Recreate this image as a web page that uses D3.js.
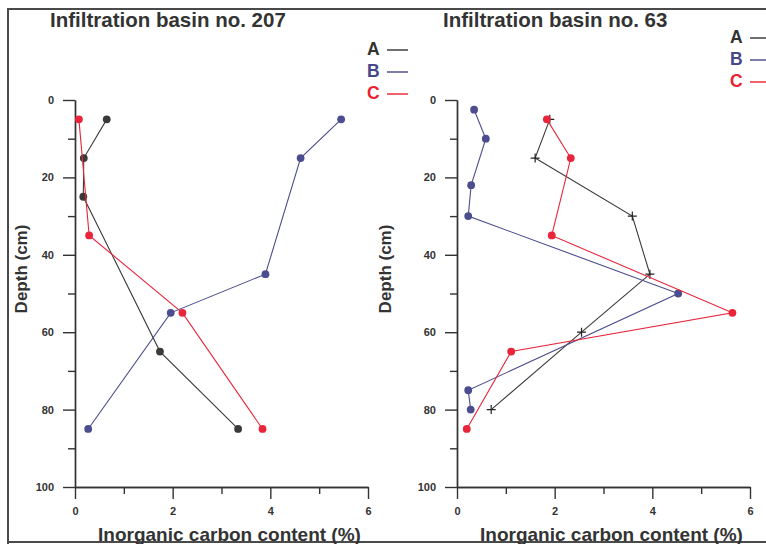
<!DOCTYPE html>
<html>
<head>
<meta charset="utf-8">
<script src="https://cdn.jsdelivr.net/npm/d3@7"></script>
<style>
  body { margin: 0; background: #fff; }
  svg { display: block; }
  text { font-family: "Liberation Sans", Arial, Helvetica, sans-serif; font-weight: bold; }
</style>
</head>
<body>
<svg id="chart" width="766" height="544"></svg>
<script>
// ---- data -------------------------------------------------------------
const panelTitles = ["Infiltration basin no. 207", "Infiltration basin no. 63"];
const seriesNames = ["A", "B", "C"];
const xTickValues = [0, 2, 4, 6];
const xMinorTickValues = [1, 3, 5];
const yTickValues = [0, 20, 40, 60, 80, 100];
const yMinorTickValues = [10, 30, 50, 70, 90];
const xTitle = "Inorganic carbon content (%)";
const yTitle = "Depth (cm)";

// Basin 207: depth (cm) and inorganic carbon (%)
const basin207DepthA = [5, 15, 25, 65, 85];
const basin207CarbonA = [0.65, 0.18, 0.17, 1.74, 3.34];
const basin207DepthB = [5, 15, 45, 55, 85];
const basin207CarbonB = [5.45, 4.62, 3.90, 1.96, 0.27];
const basin207DepthC = [5, 35, 55, 85];
const basin207CarbonC = [0.08, 0.29, 2.20, 3.84];

// Basin 63
const basin63DepthA = [5, 15, 30, 45, 60, 80];
const basin63CarbonA = [1.90, 1.60, 3.59, 3.95, 2.55, 0.70];
const basin63DepthB = [2.5, 10, 22, 30, 50, 75, 80];
const basin63CarbonB = [0.35, 0.59, 0.29, 0.23, 4.53, 0.23, 0.28];
const basin63DepthC = [5, 15, 35, 55, 65, 85];
const basin63CarbonC = [1.84, 2.33, 1.94, 5.64, 1.11, 0.20];

// ---- styling ----------------------------------------------------------
const lineColors = { A: "#3a3a3a", B: "#4b4d8e", C: "#e8253b" };
const legendColors = { A: "#333333", B: "#45478a", C: "#e8202f" };
const inkColor = "#333";

const zip = (depths, values) => depths.map((d, i) => ({ depth: d, value: values[i] }));

const panels = [
  {
    title: panelTitles[0],
    xRange: [75, 368],
    titleX: 50,
    legendX: 367, legendY: [49, 71, 93],
    yTitleX: 27,
    series: [
      { name: "A", marker: "circle", pts: zip(basin207DepthA, basin207CarbonA) },
      { name: "C", marker: "circle", pts: zip(basin207DepthC, basin207CarbonC) },
      { name: "B", marker: "circle", pts: zip(basin207DepthB, basin207CarbonB) }
    ]
  },
  {
    title: panelTitles[1],
    xRange: [457, 750],
    titleX: 443,
    legendX: 730, legendY: [37, 59, 81],
    yTitleX: 391,
    series: [
      { name: "A", marker: "plus", pts: zip(basin63DepthA, basin63CarbonA) },
      { name: "B", marker: "circle", pts: zip(basin63DepthB, basin63CarbonB) },
      { name: "C", marker: "circle", pts: zip(basin63DepthC, basin63CarbonC) }
    ]
  }
];

const svg = d3.select("#chart");
const yRange = [100, 487];

// outer frame
svg.append("path")
  .attr("d", "M8,544V9H766M8,542H766")
  .attr("fill", "none")
  .attr("stroke", "#4a4a4a")
  .attr("stroke-width", 2);

panels.forEach(p => {
  const x = d3.scaleLinear().domain([0, 6]).range(p.xRange);
  const y = d3.scaleLinear().domain([0, 100]).range(yRange);
  const g = svg.append("g");

  // y axis (major + minor ticks)
  g.append("g").attr("transform", `translate(${p.xRange[0]},0)`)
    .call(d3.axisLeft(y).tickValues(yTickValues).tickSize(12).tickSizeOuter(0).tickPadding(9)
      .tickFormat(d3.format("d")));
  g.append("g").attr("transform", `translate(${p.xRange[0]},0)`)
    .call(d3.axisLeft(y).tickValues(yMinorTickValues).tickSize(7).tickSizeOuter(0).tickFormat(""));

  // x axis (major + minor ticks)
  g.append("g").attr("transform", `translate(0,${yRange[1]})`)
    .call(d3.axisBottom(x).tickValues(xTickValues).tickSize(12).tickSizeOuter(0).tickPadding(8)
      .tickFormat(d3.format("d")));
  g.append("g").attr("transform", `translate(0,${yRange[1]})`)
    .call(d3.axisBottom(x).tickValues(xMinorTickValues).tickSize(7).tickSizeOuter(0).tickFormat(""));

  g.selectAll(".domain, .tick line").attr("stroke", inkColor).attr("stroke-width", 1.4);
  g.selectAll(".tick text")
    .attr("fill", inkColor)
    .style("font-size", "11px")
    .style("font-family", "\"Liberation Sans\", Arial, sans-serif")
    .style("font-weight", "bold");

  // panel title
  g.append("text")
    .attr("x", p.titleX).attr("y", 27)
    .attr("fill", inkColor)
    .style("font-size", "20.5px")
    .text(p.title);

  // axis titles
  g.append("text")
    .attr("x", (p.xRange[0] + p.xRange[1]) / 2 + 8).attr("y", 541)
    .attr("text-anchor", "middle")
    .attr("fill", inkColor)
    .style("font-size", "19px")
    .text(xTitle);

  g.append("text")
    .attr("transform", `translate(${p.yTitleX},269) rotate(-90)`)
    .attr("text-anchor", "middle")
    .attr("fill", inkColor)
    .style("font-size", "17px")
    .text(yTitle);

  // series lines and markers
  const line = d3.line().x(d => x(d.value)).y(d => y(d.depth));
  p.series.forEach(s => {
    const col = lineColors[s.name];
    g.append("path")
      .datum(s.pts)
      .attr("d", line)
      .attr("fill", "none")
      .attr("stroke", col)
      .attr("stroke-width", 1.1);

    if (s.marker === "circle") {
      g.selectAll(null).data(s.pts).enter().append("circle")
        .attr("cx", d => x(d.value))
        .attr("cy", d => y(d.depth))
        .attr("r", 3.9)
        .attr("fill", col);
    } else {
      g.selectAll(null).data(s.pts).enter().append("path")
        .attr("transform", d => `translate(${x(d.value)},${y(d.depth)})`)
        .attr("d", "M-4.5,0H4.5M0,-4.5V4.5")
        .attr("stroke", "#222")
        .attr("stroke-width", 1.2);
    }
  });

  // legend
  seriesNames.forEach((name, i) => {
    const ly = p.legendY[i];
    g.append("text")
      .attr("x", p.legendX).attr("y", ly + 6)
      .attr("fill", legendColors[name])
      .style("font-size", "17.5px")
      .text(name);
    g.append("line")
      .attr("x1", p.legendX + 20).attr("x2", p.legendX + 41)
      .attr("y1", ly + 1).attr("y2", ly + 1)
      .attr("stroke", legendColors[name])
      .attr("stroke-width", 1.4);
  });
});
</script>
</body>
</html>
